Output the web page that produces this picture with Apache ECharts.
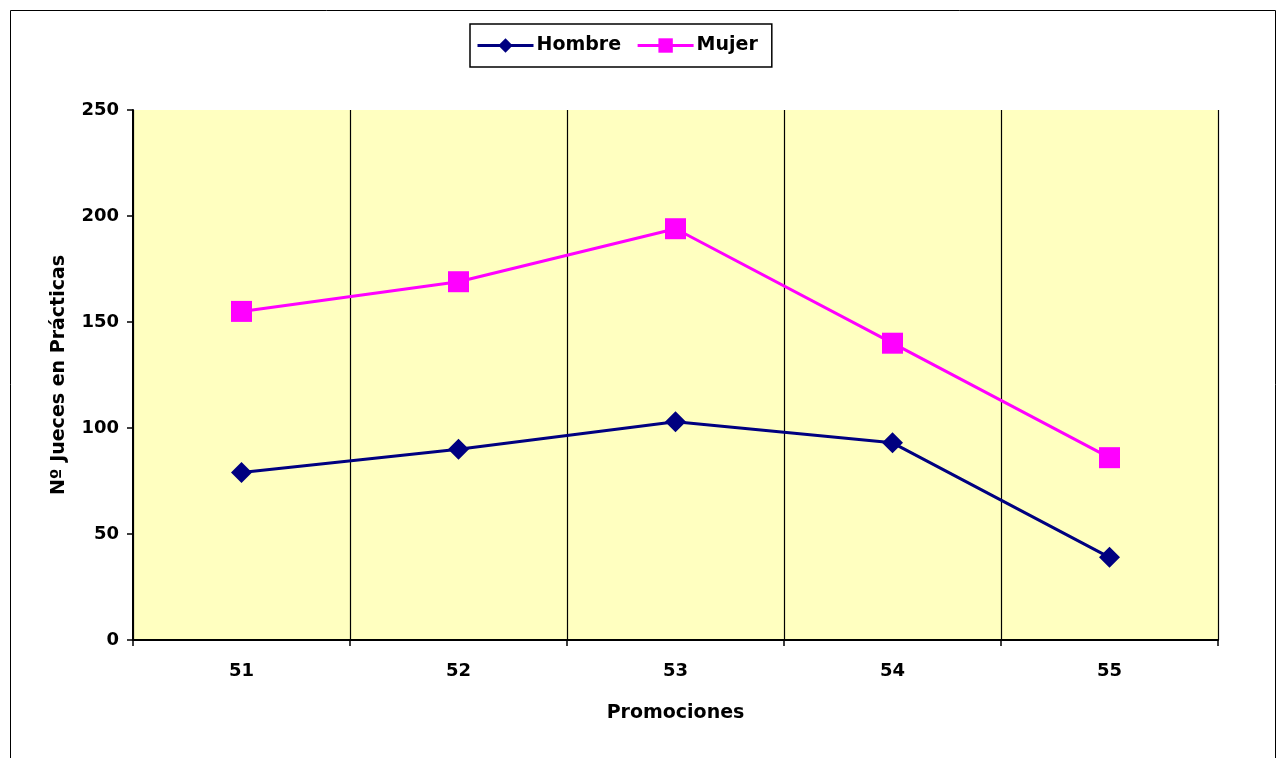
<!DOCTYPE html>
<html>
<head>
<meta charset="utf-8">
<script src="https://cdn.jsdelivr.net/npm/echarts@6/dist/echarts.min.js"></script>
<style>
  html, body { margin: 0; padding: 0; background: #fff; }
  #chart { width: 1280px; height: 758px; }
</style>
</head>
<body>
<div id="chart"></div>
<script>
// datos
const promociones = ['51', '52', '53', '54', '55']
const hombre = [79, 90, 103, 93, 39]
const mujer = [155, 169, 194, 140, 86]

const font = 'DejaVu Sans, Arial, sans-serif'
const axisLabel = { color: '#000', fontFamily: font, fontWeight: 'bold', fontSize: 18 }
const nameStyle = { color: '#000', fontFamily: font, fontWeight: 'bold', fontSize: 19 }

const option = {
  backgroundColor: '#fff',
  graphic: [{
    type: 'rect',
    shape: { x: 10.5, y: 10.5, width: 1265, height: 760 },
    style: { fill: 'none', stroke: '#000', lineWidth: 1 },
    silent: true
  }],
  legend: {
    left: 470,
    top: 24,
    padding: [12, 14, 12, 6],
    itemGap: 15,
    itemWidth: 56,
    itemHeight: 18,
    borderColor: '#000',
    borderWidth: 1.5,
    lineStyle: { width: 3 },
    textStyle: { color: '#000', fontFamily: font, fontWeight: 'bold', fontSize: 19, padding: [0, 0, 0, -2] },
    data: ['Hombre', 'Mujer']
  },
  grid: {
    left: 133,
    right: 62,
    top: 110,
    bottom: 118,
    show: true,
    backgroundColor: '#FFFFC0',
    borderWidth: 0
  },
  xAxis: {
    type: 'category',
    data: promociones,
    boundaryGap: true,
    name: 'Promociones',
    nameLocation: 'middle',
    nameGap: 64,
    nameTextStyle: nameStyle,
    axisLine: { lineStyle: { color: '#000', width: 2 } },
    axisTick: { show: true, length: 6, lineStyle: { color: '#000', width: 1.5 } },
    axisLabel: Object.assign({ margin: 22 }, axisLabel),
    splitLine: { show: true, lineStyle: { color: '#000', width: 1.2 } }
  },
  yAxis: {
    type: 'value',
    min: 0,
    max: 250,
    interval: 50,
    name: 'Nº Jueces en Prácticas',
    nameLocation: 'middle',
    nameGap: 64,
    nameTextStyle: nameStyle,
    axisLine: { show: true, lineStyle: { color: '#000', width: 2 } },
    axisTick: { show: true, length: 6, lineStyle: { color: '#000', width: 1.5 } },
    axisLabel: Object.assign({ margin: 14 }, axisLabel),
    splitLine: { show: false }
  },
  series: [
    {
      name: 'Hombre',
      type: 'line',
      data: hombre,
      symbol: 'diamond',
      symbolSize: 21,
      color: '#000080',
      lineStyle: { width: 3, color: '#000080' },
      itemStyle: { color: '#000080' },
      animation: false
    },
    {
      name: 'Mujer',
      type: 'line',
      data: mujer,
      symbol: 'rect',
      symbolSize: 21,
      color: '#FF00FF',
      lineStyle: { width: 3, color: '#FF00FF' },
      itemStyle: { color: '#FF00FF' },
      animation: false
    }
  ]
}

const myChart = echarts.init(document.getElementById('chart'))
myChart.setOption(option)
</script>
</body>
</html>
